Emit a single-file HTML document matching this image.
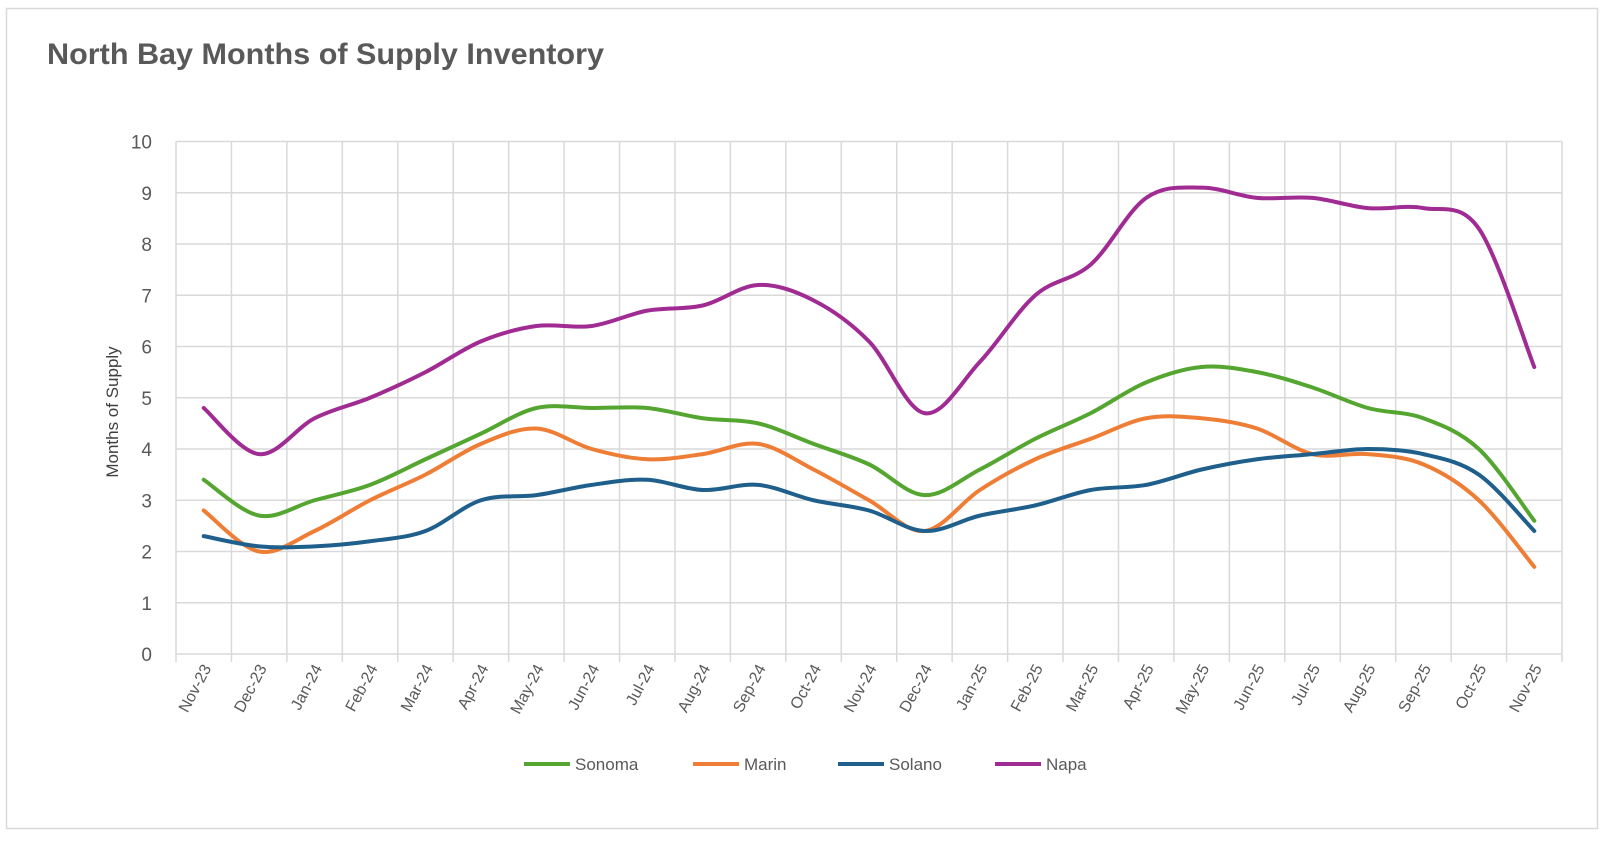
<!DOCTYPE html>
<html><head><meta charset="utf-8"><style>
body{margin:0;background:#fff;width:1606px;height:838px;overflow:hidden;font-family:"Liberation Sans",Arial,sans-serif}
</style></head><body>
<svg id="c" width="1606" height="838">
<rect x="6.5" y="8.5" width="1591" height="820" fill="#fff" stroke="#d9d9d9" stroke-width="1.5"/>
<text x="47" y="64" font-size="30" font-weight="bold" fill="#595959" textLength="557" lengthAdjust="spacingAndGlyphs">North Bay Months of Supply Inventory</text>
<text transform="translate(118,412) rotate(-90)" text-anchor="middle" font-size="17" fill="#404040">Months of Supply</text>
<g id="grid"></g><g id="lines"></g><g id="legend"></g>
</svg>
<script>
const categories=["Nov-23","Dec-23","Jan-24","Feb-24","Mar-24","Apr-24","May-24","Jun-24","Jul-24","Aug-24","Sep-24","Oct-24","Nov-24","Dec-24","Jan-25","Feb-25","Mar-25","Apr-25","May-25","Jun-25","Jul-25","Aug-25","Sep-25","Oct-25","Nov-25"];
const sonoma=[3.4,2.7,3.0,3.3,3.8,4.3,4.8,4.8,4.8,4.6,4.5,4.1,3.7,3.1,3.6,4.2,4.7,5.3,5.6,5.5,5.2,4.8,4.6,4.0,2.6];
const marin=[2.8,2.0,2.4,3.0,3.5,4.1,4.4,4.0,3.8,3.9,4.1,3.6,3.0,2.4,3.2,3.8,4.2,4.6,4.6,4.4,3.9,3.9,3.7,3.0,1.7];
const solano=[2.3,2.1,2.1,2.2,2.4,3.0,3.1,3.3,3.4,3.2,3.3,3.0,2.8,2.4,2.7,2.9,3.2,3.3,3.6,3.8,3.9,4.0,3.9,3.5,2.4];
const napa=[4.8,3.9,4.6,5.0,5.5,6.1,6.4,6.4,6.7,6.8,7.2,6.9,6.1,4.7,5.7,7.0,7.6,8.9,9.1,8.9,8.9,8.7,8.7,8.3,5.6];
const yTicks=[0,1,2,3,4,5,6,7,8,9,10];
const seriesNames=["Sonoma","Marin","Solano","Napa"];
const seriesData=[sonoma,marin,solano,napa];
const colors=["#55a630","#ee7d36","#1f5f8b","#a02b93"];
const NS="http://www.w3.org/2000/svg";
const L=176,R=1562,T=141.5,B=654,n=categories.length,cw=(R-L)/n;
const x=i=>L+cw*(i+0.5), y=v=>B-(B-T)*v/10;
function mk(t,a,p){const e=document.createElementNS(NS,t);for(const k in a)e.setAttribute(k,a[k]);p.appendChild(e);return e;}
const g=document.getElementById('grid');
yTicks.forEach(v=>{
 const l=mk('line',{x1:L,x2:R,y1:y(v),y2:y(v),stroke:'#d9d9d9','stroke-width':1.5},g);
 
 
 const t=mk('text',{x:152,y:y(v)+7,'text-anchor':'end','font-size':19,fill:'#595959'},g);t.textContent=v;
 
 
});
for(let i=0;i<=n;i++){
 const xx=L+cw*i;
 const l=mk('line',{x1:xx,x2:xx,y1:T,y2:B+8,stroke:'#d9d9d9','stroke-width':1.5},g);
 
 
}
categories.forEach((c,i)=>{
 const t=mk('text',{transform:`translate(${x(i)+8},${B+14}) rotate(-62)`,'text-anchor':'end','font-size':16,fill:'#595959'},g);t.textContent=c;
 
 
});
function path(d){const p=d.map((v,i)=>[x(i),y(v)]);let s=`M${p[0][0]},${p[0][1]}`;
 for(let i=0;i<p.length-1;i++){const p0=p[i-1]||p[i],p1=p[i],p2=p[i+1],p3=p[i+2]||p2;const k=1/6;
  s+=` C${p1[0]+(p2[0]-p0[0])*k},${p1[1]+(p2[1]-p0[1])*k} ${p2[0]-(p3[0]-p1[0])*k},${p2[1]-(p3[1]-p1[1])*k} ${p2[0]},${p2[1]}`;}
 return s;}
const lg=document.getElementById('lines'),leg=document.getElementById('legend');
const legX=[524,693,838,995];
seriesData.forEach((d,si)=>{
 const p=mk('path',{d:path(d),fill:'none',stroke:colors[si],'stroke-width':4,'stroke-linejoin':'round','stroke-linecap':'round'},lg);
 
 
 const l=mk('line',{x1:legX[si],x2:legX[si]+46,y1:764,y2:764,stroke:colors[si],'stroke-width':4},leg);
 
 
 const t=mk('text',{x:legX[si]+51,y:770,'font-size':17,fill:'#595959'},leg);t.textContent=seriesNames[si];
 
 
});
</script>
</body></html>
